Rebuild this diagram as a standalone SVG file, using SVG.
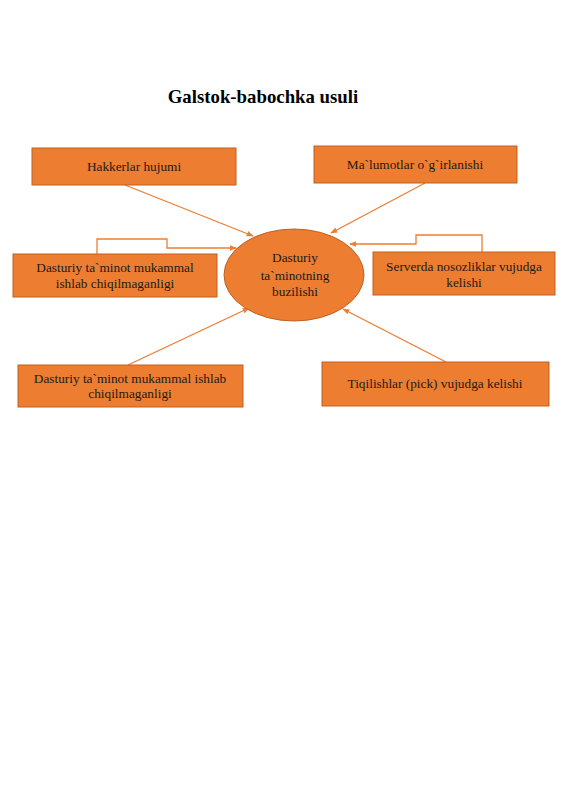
<svg xmlns="http://www.w3.org/2000/svg" width="565" height="800" viewBox="0 0 565 800">
<defs>
<style>
.box{fill:#ED7D31;stroke:#C0601E;stroke-width:1}
.lbl{font-family:"Liberation Serif","Times New Roman",serif;font-size:13.3px;fill:#1e1a18;text-anchor:middle}
.title{font-family:"Liberation Serif","Times New Roman",serif;font-size:18.8px;font-weight:bold;fill:#000;text-anchor:middle}
.con{fill:none;stroke:#ED7D31;stroke-width:1.3}
</style>
<marker id="ah" viewBox="0 0 10 10" refX="9" refY="5" markerWidth="7" markerHeight="7" orient="auto" markerUnits="userSpaceOnUse">
<path d="M0,1 L10,5 L0,9 Z" fill="#ED7D31"/>
</marker>
</defs>
<rect width="565" height="800" fill="#fff"/>
<text class="title" x="263" y="103">Galstok-babochka usuli</text>

<g id="connectors">
<line class="con" x1="125" y1="185" x2="253" y2="236" marker-end="url(#ah)"/>
<line class="con" x1="425" y1="183" x2="331" y2="233" marker-end="url(#ah)"/>
<polyline class="con" points="97,254 97,239 167,239 167,248 236,248" marker-end="url(#ah)"/>
<polyline class="con" points="482,252 482,235 416,235 416,244 350,244" marker-end="url(#ah)"/>
<line class="con" x1="128" y1="365" x2="249" y2="308" marker-end="url(#ah)"/>
<line class="con" x1="446" y1="362" x2="343" y2="309" marker-end="url(#ah)"/>
</g>

<g id="center">
<ellipse class="box" cx="294" cy="275" rx="70" ry="46"/>
<text class="lbl" x="295" y="262">Dasturiy</text>
<text class="lbl" x="295" y="280">ta`minotning</text>
<text class="lbl" x="295" y="296">buzilishi</text>
</g>

<g id="n1">
<rect class="box" x="32" y="148" width="204" height="37"/>
<text class="lbl" x="134" y="171">Hakkerlar hujumi</text>
</g>

<g id="n2">
<rect class="box" x="314" y="146" width="203" height="37"/>
<text class="lbl" x="415" y="169">Ma`lumotlar o`g`irlanishi</text>
</g>

<g id="n3">
<rect class="box" x="13" y="254" width="204" height="43"/>
<text class="lbl" x="115" y="272">Dasturiy ta`minot mukammal</text>
<text class="lbl" x="115" y="288">ishlab chiqilmaganligi</text>
</g>

<g id="n4">
<rect class="box" x="373" y="252" width="182" height="43"/>
<text class="lbl" x="464" y="271">Serverda nosozliklar vujudga</text>
<text class="lbl" x="464" y="287">kelishi</text>
</g>

<g id="n5">
<rect class="box" x="18" y="365" width="225" height="42"/>
<text class="lbl" x="130" y="383">Dasturiy ta`minot mukammal ishlab</text>
<text class="lbl" x="130" y="398">chiqilmaganligi</text>
</g>

<g id="n6">
<rect class="box" x="322" y="362" width="227" height="44"/>
<text class="lbl" x="435" y="388">Tiqilishlar (pick) vujudga kelishi</text>
</g>
</svg>
